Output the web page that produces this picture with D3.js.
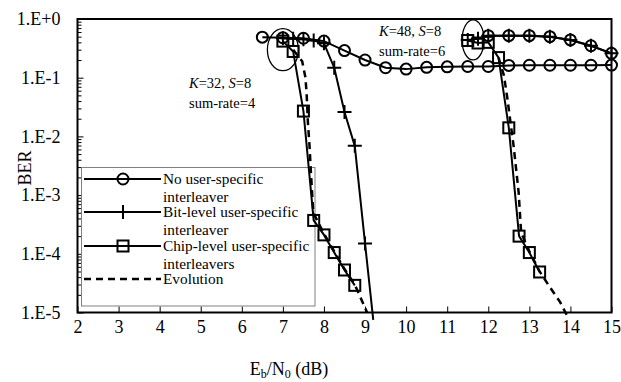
<!DOCTYPE html>
<html>
<head>
<meta charset="utf-8">
<script src="https://cdn.jsdelivr.net/npm/d3@7"></script>
<style>
  html, body { margin: 0; padding: 0; background: #fff; }
  svg { display: block; }
</style>
</head>
<body>
<svg id="chart" width="621" height="382"></svg>
<script>
// Eb/N0 axis ticks and BER decade labels
const xTicks = [2, 3, 4, 5, 6, 7, 8, 9, 10, 11, 12, 13, 14, 15];
const yTicks = [1, 1e-1, 1e-2, 1e-3, 1e-4, 1e-5];
const yTickLabels = ["1.E+0", "1.E-1", "1.E-2", "1.E-3", "1.E-4", "1.E-5"];

// K=32, S=8 (sum-rate = 4)
const noUserK32Snr = [6.5, 7, 7.5, 8, 8.5, 9, 9.5, 10, 10.5, 11, 11.5, 12, 12.5, 13, 13.5, 14, 14.5, 15];
const noUserK32Ber = [0.49, 0.48, 0.47, 0.42, 0.29, 0.20, 0.148, 0.14, 0.15, 0.153, 0.155, 0.155, 0.162, 0.163, 0.163, 0.163, 0.163, 0.164];
const bitK32Snr = [7, 7.25, 7.5, 7.75, 8, 8.25, 8.5, 8.75, 9, 9.2];
const bitK32Ber = [0.47, 0.46, 0.45, 0.43, 0.385, 0.148, 0.026, 0.0069, 1.5e-4, 7.5e-6];
const chipK32Snr = [7, 7.25, 7.5, 7.75, 8, 8.25, 8.5, 8.75];
const chipK32Ber = [0.42, 0.28, 0.027, 3.7e-4, 2.1e-4, 1.05e-4, 5.3e-5, 2.9e-5];
const evoK32Snr = [7.25, 7.47, 7.55, 7.58, 7.61, 7.65, 7.68, 7.74, 8, 8.25, 8.5, 8.75, 9.05];
const evoK32Ber = [0.3, 0.19, 0.1, 0.05, 0.017, 6.6e-3, 2.6e-3, 5e-4, 2.2e-4, 1.1e-4, 5.5e-5, 3e-5, 1e-5];

// K=48, S=8 (sum-rate = 6)
const noUserK48Snr = [12, 12.5, 13, 13.5, 14, 14.5, 15];
const noUserK48Ber = [0.52, 0.52, 0.52, 0.5, 0.44, 0.35, 0.26];
const bitK48Snr = [11.5, 11.75, 12, 12.5, 13, 13.5, 14, 14.5, 15];
const bitK48Ber = [0.44, 0.46, 0.52, 0.52, 0.52, 0.5, 0.44, 0.35, 0.26];
const chipK48Snr = [11.5, 11.75, 12, 12.25, 12.5, 12.75, 13, 13.25];
const chipK48Ber = [0.43, 0.39, 0.40, 0.22, 0.014, 2e-4, 1.05e-4, 4.9e-5];
const evoK48Snr = [12.25, 12.38, 12.46, 12.62, 12.74, 12.8, 13, 13.25, 13.5, 13.75, 13.95];
const evoK48Ber = [0.22, 0.11, 0.047, 6.6e-3, 1.1e-3, 2.3e-4, 1.1e-4, 5e-5, 2.7e-5, 1.5e-5, 8e-6];

const legendLabels = [
  ["No user-specific", "interleaver"],
  ["Bit-level user-specific", "interleaver"],
  ["Chip-level user-specific", "interleavers"],
  ["Evolution"]
];

const FONT = '"Liberation Serif", "DejaVu Serif", "Times New Roman", serif';
const zip = (xs, ys) => xs.map((x, i) => ({ x, y: ys[i] }));

const svg = d3.select("#chart");
const plotLeft = 77.5, plotRight = 611.5, plotTop = 19, plotBottom = 312.5;

const x = d3.scaleLinear().domain([2, 15]).range([plotLeft, plotRight]);
const y = d3.scaleLog().domain([1, 1e-5]).range([plotTop, plotBottom]);

// minor ticks inside each decade
const minorTicks = [];
for (let e = 0; e > -5; e--) {
  for (let m = 2; m <= 9; m++) minorTicks.push(m * Math.pow(10, e - 1));
}

// x axis (ticks point inward)
const xAxis = svg.append("g").attr("transform", `translate(0,${plotBottom})`)
  .call(d3.axisBottom(x).tickValues(xTicks).tickSizeInner(-6).tickSizeOuter(0).tickPadding(8).tickFormat(d3.format("d")));
xAxis.select(".domain").remove();
xAxis.selectAll("line").attr("stroke", "#000").attr("stroke-width", 1);
xAxis.selectAll("text").attr("font-size", 18).style("font-family", FONT).attr("fill", "#000");

// y axis major ticks with labels
const yAxis = svg.append("g").attr("transform", `translate(${plotLeft},0)`)
  .call(d3.axisLeft(y).tickValues(yTicks).tickSizeInner(-6).tickSizeOuter(0).tickPadding(17)
    .tickFormat((d, i) => yTickLabels[i]));
yAxis.select(".domain").remove();
yAxis.selectAll("line").attr("stroke", "#000").attr("stroke-width", 1);
yAxis.selectAll("text").attr("font-size", 18).style("font-family", FONT).attr("fill", "#000");

// y axis minor ticks
const yMinor = svg.append("g").attr("transform", `translate(${plotLeft},0)`)
  .call(d3.axisLeft(y).tickValues(minorTicks).tickSizeInner(-4).tickSizeOuter(0).tickFormat(""));
yMinor.select(".domain").remove();
yMinor.selectAll("line").attr("stroke", "#000").attr("stroke-width", 1);

// plot frame
svg.append("rect")
  .attr("x", plotLeft).attr("y", plotTop).attr("width", plotRight - plotLeft).attr("height", plotBottom - plotTop)
  .attr("fill", "none").attr("stroke", "#000").attr("stroke-width", 2);

// axis titles
svg.append("text")
  .attr("transform", `translate(31,168) rotate(-90)`)
  .attr("text-anchor", "middle").attr("font-size", 18).style("font-family", FONT)
  .text("BER");

const xt = svg.append("text").attr("x", 289).attr("y", 375)
  .attr("text-anchor", "middle").attr("font-size", 18).style("font-family", FONT);
xt.append("tspan").text("E");
xt.append("tspan").attr("font-size", 12).attr("dy", 3).text("b");
xt.append("tspan").attr("dy", -3).text("/N");
xt.append("tspan").attr("font-size", 12).attr("dy", 3).text("0");
xt.append("tspan").attr("dy", -3).text(" (dB)");

// legend box
const lg = svg.append("g");
lg.append("rect").attr("x", 81.5).attr("y", 167.5).attr("width", 233.5).attr("height", 138.5)
  .attr("fill", "#fff").attr("stroke", "#808080").attr("stroke-width", 1);

// marker drawing helpers
function drawMarker(g, type, cx, cy) {
  if (type === "circle") {
    g.append("circle").attr("cx", cx).attr("cy", cy).attr("r", 5.5)
      .attr("fill", "none").attr("stroke", "#000").attr("stroke-width", 2);
  } else if (type === "square") {
    g.append("rect").attr("x", cx - 5.5).attr("y", cy - 5.5).attr("width", 11).attr("height", 11)
      .attr("fill", "none").attr("stroke", "#000").attr("stroke-width", 2);
  } else if (type === "plus") {
    g.append("path").attr("d", `M${cx - 7},${cy}H${cx + 7}M${cx},${cy - 7}V${cy + 7}`)
      .attr("stroke", "#000").attr("stroke-width", 2).attr("fill", "none");
  }
}

const legendRows = [
  { marker: "circle", dash: null, ly: 179 },
  { marker: "plus", dash: null, ly: 212 },
  { marker: "square", dash: null, ly: 246 },
  { marker: null, dash: "7,5", ly: 279 }
];
legendRows.forEach((r, i) => {
  lg.append("line").attr("x1", 84).attr("x2", 161).attr("y1", r.ly).attr("y2", r.ly)
    .attr("stroke", "#000").attr("stroke-width", r.dash ? 2.5 : 2)
    .attr("stroke-dasharray", r.dash);
  if (r.marker) drawMarker(lg, r.marker, 123, r.ly);
  const t = lg.append("text").attr("x", 163).attr("y", r.ly + 5)
    .attr("font-size", 15.3).style("font-family", FONT);
  legendLabels[i].forEach((s, j) => {
    t.append("tspan").attr("x", 163).attr("dy", j === 0 ? 0 : 17.5).text(s);
  });
});

// series
const line = d3.line().x(d => x(d.x)).y(d => y(d.y));
const series = [
  { pts: zip(noUserK32Snr, noUserK32Ber), marker: "circle" },
  { pts: zip(noUserK48Snr, noUserK48Ber), marker: "circle" },
  { pts: zip(bitK32Snr, bitK32Ber), marker: "plus" },
  { pts: zip(bitK48Snr, bitK48Ber), marker: "plus" },
  { pts: zip(chipK32Snr, chipK32Ber), marker: "square" },
  { pts: zip(chipK48Snr, chipK48Ber), marker: "square" },
  { pts: zip(evoK32Snr, evoK32Ber), marker: null, dash: "7,5" },
  { pts: zip(evoK48Snr, evoK48Ber), marker: null, dash: "7,5" }
];
const sg = svg.append("g");
series.forEach(s => {
  sg.append("path").attr("d", line(s.pts)).attr("fill", "none")
    .attr("stroke", "#000").attr("stroke-width", s.dash ? 2.5 : 2)
    .attr("stroke-dasharray", s.dash || null);
  if (s.marker) {
    s.pts.filter(p => p.y >= 1e-5).forEach(p => drawMarker(sg, s.marker, x(p.x), y(p.y)));
  }
});

// group annotations
const notes = svg.append("g");
notes.append("ellipse").attr("cx", x(7.0)).attr("cy", y(0.3)).attr("rx", 15.5).attr("ry", 21)
  .attr("fill", "none").attr("stroke", "#000").attr("stroke-width", 1.3);
notes.append("ellipse").attr("cx", x(11.63)).attr("cy", y(0.44)).attr("rx", 11).attr("ry", 20)
  .attr("fill", "none").attr("stroke", "#000").attr("stroke-width", 1.3);

function groupLabel(px, py, k, s, rate) {
  const t = notes.append("text").attr("x", px).attr("y", py)
    .attr("font-size", 14.5).style("font-family", FONT);
  t.append("tspan").attr("font-style", "italic").text("K");
  t.append("tspan").text("=" + k + ", ");
  t.append("tspan").attr("font-style", "italic").text("S");
  t.append("tspan").text("=" + s);
  notes.append("text").attr("x", px).attr("y", py + 20)
    .attr("font-size", 14.5).style("font-family", FONT).text("sum-rate=" + rate);
}
groupLabel(189, 88, 32, 8, 4);
groupLabel(379, 36, 48, 8, 6);
</script>
</body>
</html>
